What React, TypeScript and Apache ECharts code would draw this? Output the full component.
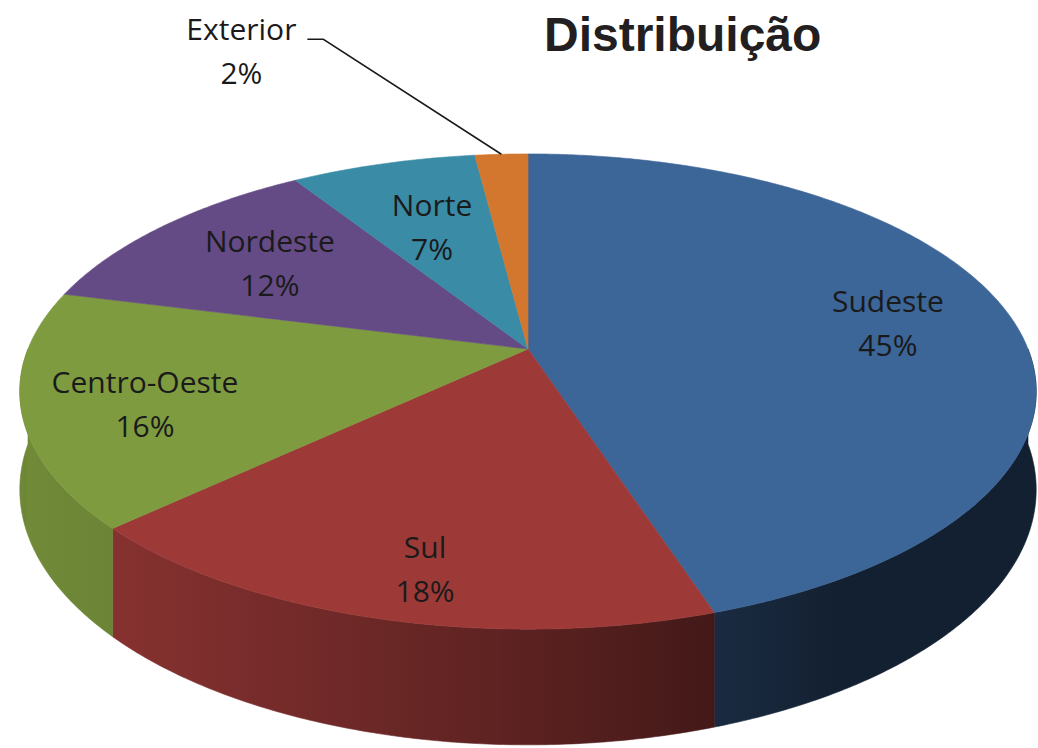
import React, { useEffect, useRef } from "react";
import * as echarts from "echarts";

const categories = ["Sudeste", "Sul", "Centro-Oeste", "Nordeste", "Norte", "Exterior"];
const values = [45, 18, 16, 12, 7, 2];
const topColors = ["#3c6598", "#9d3a38", "#7e9b3f", "#654b85", "#3a8ba6", "#d3772e"];
// label distance from centre, as a fraction of the radius
const labelRadius = [0.744, 0.724, 0.764, 0.684, 0.626, 1];

// projection of the tilted disc
const CX = 528;
const CY = 349;
const A = 500;
const B = 230;
const P = 0.179;
const H = 95;

function pt(deg: number, r: number, h: number): number[] {
  const t = (deg * Math.PI) / 180;
  const X = r * Math.sin(t);
  const Z = -r * Math.cos(t);
  const d = 1 - P * Z;
  return [CX + (A * X) / d, CY + (B * Z + H * (1 - h)) / d];
}

function shade(hex: string, f: number): string {
  const n = parseInt(hex.slice(1), 16);
  const r = Math.round(((n >> 16) & 255) * f);
  const g = Math.round(((n >> 8) & 255) * f);
  const b = Math.round((n & 255) * f);
  return `rgb(${r},${g},${b})`;
}

function light(deg: number): number {
  return Math.max(0.32, 0.413 + 0.475 * Math.cos(((deg - 250) * Math.PI) / 180));
}

export default function App() {
  const ref = useRef<HTMLDivElement>(null);
  useEffect(() => {
    document.body.style.margin = "0";
    const chart = echarts.init(ref.current!, null, { renderer: "svg" });
    const total = values.reduce((a, b) => a + b, 0);
    const starts: number[] = [];
    let acc = 0;
    values.forEach((v) => {
      starts.push((acc / total) * 360);
      acc += v;
    });

    const renderItem = (params: any, api: any) => {
      const i = params.dataIndex;
      const v = api.value(0);
      const a0 = starts[i];
      const a1 = a0 + (v / total) * 360;
      const color = topColors[i];
      const children: any[] = [];

      // top face
      const topPts: number[][] = [pt(0, 0, 1)];
      for (let a = a0; a < a1; a += 0.5) topPts.push(pt(a, 1, 1));
      topPts.push(pt(a1, 1, 1));
      children.push({
        type: "polygon",
        z2: 10,
        shape: { points: topPts },
        style: { fill: color, stroke: color, lineWidth: 0.6 },
      });

      // side wall (front half only)
      const s = Math.max(a0, 90);
      const e = Math.min(a1, 270);
      if (s < e) {
        const pts: number[][] = [];
        for (let a = s; a < e; a += 0.5) pts.push(pt(a, 1, 1));
        pts.push(pt(e, 1, 1));
        pts.push(pt(e, 1, 0));
        for (let a = e; a > s; a -= 0.5) pts.push(pt(a, 1, 0));
        pts.push(pt(s, 1, 0));
        const xs = pts.map((p) => p[0]);
        const xl = Math.min(...xs);
        const xr = Math.max(...xs);
        const stops: any[] = [];
        for (let a = s; a <= e + 0.001; a += 3) {
          const aa = Math.min(a, e);
          const x = pt(aa, 1, 1)[0];
          stops.push({ offset: Math.min(1, Math.max(0, (x - xl) / (xr - xl || 1))), color: shade(color, light(aa)) });
        }
        stops.sort((p, q) => p.offset - q.offset);
        const grad = { type: "linear", x: xl, y: 0, x2: xr, y2: 0, global: true, colorStops: stops };
        children.push({
          type: "polygon",
          z2: 1,
          shape: { points: pts },
          style: { fill: grad, stroke: grad, lineWidth: 0.6 },
        });
      }

      // label
      const mid = (a0 + a1) / 2;
      const pct = Math.round((v / total) * 100) + "%";
      const name = categories[i];
      const font = { fontFamily: "Open Sans", fontSize: 30, fill: "#1a1a1a" };
      if (v / total < 0.03) {
        const anchor = pt(mid, 1, 1);
        const elbow = [anchor[0] - 178, anchor[1] - 115];
        const end = [elbow[0] - 16, elbow[1]];
        children.push({
          type: "polyline",
          z2: 20,
          shape: { points: [anchor, elbow, end] },
          style: { stroke: "#1a1a1a", lineWidth: 1.5, fill: "none" },
        });
        children.push({
          type: "text",
          z2: 20,
          x: end[0] - 66,
          y: end[1] + 11,
          style: { text: `${name}\n${pct}`, align: "center", verticalAlign: "middle", lineHeight: 44, ...font },
        });
      } else {
        const lp = pt(mid, labelRadius[i], 1);
        const dy = 36 * Math.max(0, -Math.cos((mid * Math.PI) / 180));
        children.push({
          type: "text",
          z2: 20,
          x: lp[0],
          y: lp[1] + dy,
          style: { text: `${name}\n${pct}`, align: "center", verticalAlign: "middle", lineHeight: 44, ...font },
        });
      }
      return { type: "group", children };
    };

    chart.setOption({
      animation: false,
      title: {
        text: "Distribuição",
        left: 539,
        top: 5,
        textStyle: { fontFamily: "Liberation Sans", fontWeight: "bold", fontSize: 48, color: "#231f20" },
      },
      series: [
        {
          type: "custom",
          coordinateSystem: "none",
          renderItem,
          data: values.map((v, i) => ({ name: categories[i], value: [v] })),
        },
      ],
    });
    return () => chart.dispose();
  }, []);
  return <div ref={ref} style={{ width: 1038, height: 748 }} />;
}
